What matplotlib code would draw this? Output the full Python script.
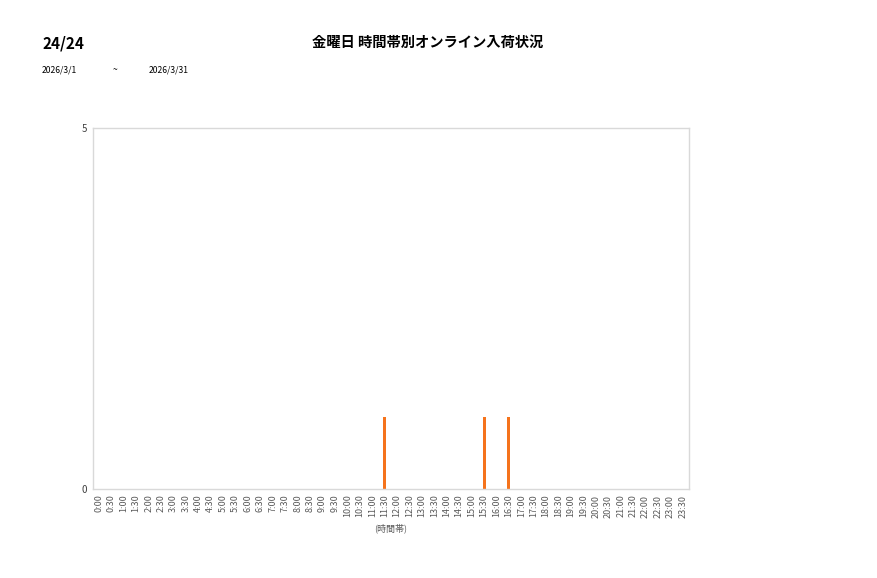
import numpy as np
from matplotlib import pyplot as plt

plt.rcParams['font.family'] = ['Noto Sans CJK JP', 'DejaVu Sans']

# 30-minute time slots, 0:00 .. 23:30
slots = ['%d:%02d' % (h, m) for h in range(24) for m in (0, 30)]
# arrivals per slot (only non-zero slots listed)
hit_slots = ['11:30', '15:30', '16:30']
hit_counts = [1, 1, 1]

counts = np.zeros(len(slots))
for s, c in zip(hit_slots, hit_counts):
    counts[slots.index(s)] = c

fig = plt.figure(figsize=(8.77, 5.78), dpi=100)
ax = fig.add_axes([0.1057, 0.154, 0.68, 0.6245])

x = np.arange(len(slots))
ax.bar(x, counts, width=0.25, color='#f5731c')

ax.set_xlim(-0.5, len(slots) - 0.5)
ax.set_ylim(0, 5)
ax.set_yticks([0, 5])
ax.set_yticklabels(['0', '5'], fontsize=7, color='#404040')
ax.set_xticks(x)
ax.set_xticklabels(slots, rotation=90, fontsize=6.5, color='#595959')
ax.tick_params(axis='both', length=0, pad=4)
for sp in ax.spines.values():
    sp.set_color('#d9d9d9')
    sp.set_linewidth(1)

ax.set_xlabel('(時間帯)', fontsize=6.5, color='#595959', labelpad=4)

fig.text(0.048, 0.925, '24/24', fontsize=11, fontweight='bold', va='center')
fig.text(0.4875, 0.925, '金曜日 時間帯別オンライン入荷状況', fontsize=10.3,
         fontweight='bold', ha='center', va='center')
fig.text(0.048, 0.879, '2026/3/1', fontsize=6.2, va='center')
fig.text(0.128, 0.879, '~', fontsize=6.2, va='center')
fig.text(0.169, 0.879, '2026/3/31', fontsize=6.2, va='center')

fig.savefig('out.png')
